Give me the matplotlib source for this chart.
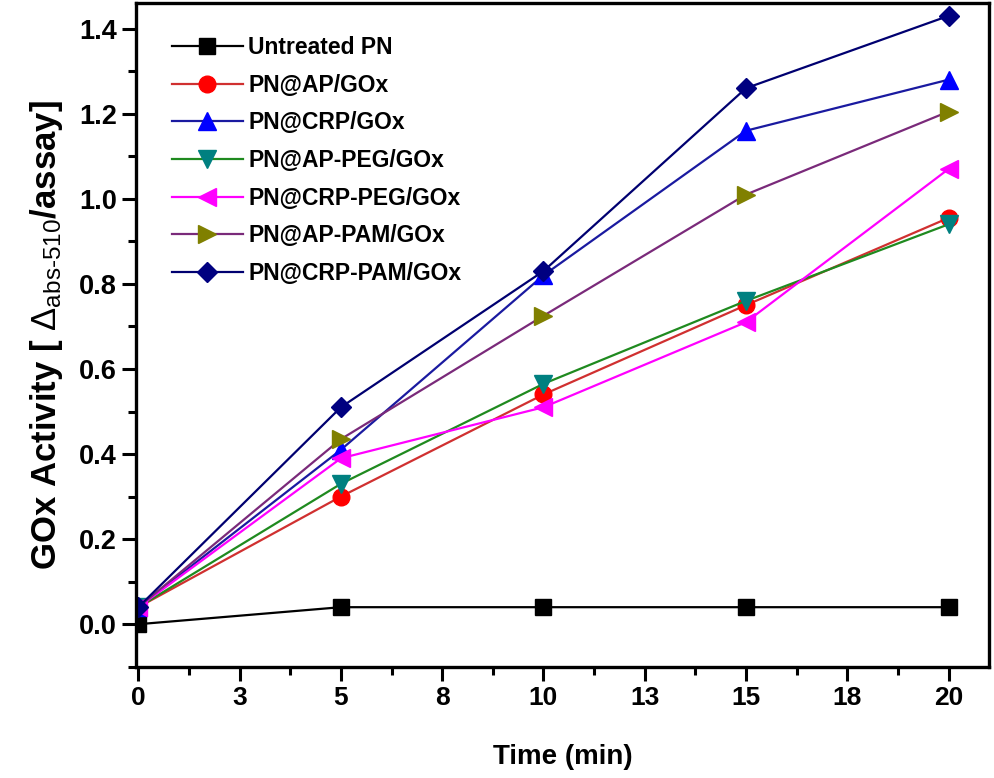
import matplotlib
matplotlib.use("Agg")
import matplotlib.pyplot as plt
from matplotlib.ticker import FixedLocator, MultipleLocator

# data
time_min = [0, 5, 10, 15, 20]
untreated = [0.0, 0.04, 0.04, 0.04, 0.04]
ap_gox = [0.04, 0.30, 0.54, 0.75, 0.955]
crp_gox = [0.04, 0.41, 0.82, 1.16, 1.28]
ap_peg = [0.04, 0.33, 0.565, 0.76, 0.94]
crp_peg = [0.04, 0.39, 0.51, 0.71, 1.07]
ap_pam = [0.04, 0.435, 0.725, 1.01, 1.205]
crp_pam = [0.04, 0.51, 0.83, 1.26, 1.43]

labels = ["Untreated PN", "PN@AP/GOx", "PN@CRP/GOx", "PN@AP-PEG/GOx",
          "PN@CRP-PEG/GOx", "PN@AP-PAM/GOx", "PN@CRP-PAM/GOx"]

x_ticks = [0, 2.5, 5, 7.5, 10, 12.5, 15, 17.5, 20]
x_ticklabels = ["0", "3", "5", "8", "10", "13", "15", "18", "20"]

plt.rcParams['font.family'] = ['Liberation Sans', 'DejaVu Sans']
plt.rcParams['mathtext.fontset'] = 'custom'
plt.rcParams['mathtext.rm'] = 'Liberation Sans'
plt.rcParams['mathtext.it'] = 'Liberation Sans:italic'

fig = plt.figure(figsize=(9.95, 7.78), dpi=100)
ax = fig.add_axes([0.137, 0.143, 0.857, 0.853])

series = [
    (untreated, "#000000", "s", "#000000", 11),
    (ap_gox, "#d03030", "o", "#ff0000", 12),
    (crp_gox, "#1a1aa0", "^", "#0000ff", 13),
    (ap_peg, "#1f8a1f", "v", "#008080", 13),
    (crp_peg, "#ff00ff", "<", "#ff00ff", 13),
    (ap_pam, "#7a2a7a", ">", "#808000", 13),
    (crp_pam, "#000070", "D", "#000080", 10),
]
for (ys, lc, mk, mc, ms), lab in zip(series, labels):
    ax.plot(time_min, ys, color=lc, lw=1.6, marker=mk, ms=ms,
            markerfacecolor=mc, markeredgecolor=mc, label=lab)

ax.set_xlim(-0.05, 21)
ax.set_ylim(-0.1, 1.46)

ax.xaxis.set_major_locator(FixedLocator(x_ticks))
ax.set_xticklabels(x_ticklabels, fontsize=19, fontweight='bold')
ax.xaxis.set_minor_locator(MultipleLocator(1.25))
ax.yaxis.set_major_locator(MultipleLocator(0.2))
ax.yaxis.set_minor_locator(MultipleLocator(0.1))
ax.set_yticklabels([f"{v:.1f}" for v in ax.get_yticks()])
for t in ax.get_yticklabels():
    t.set_fontsize(19.5)
    t.set_fontweight('bold')

ax.tick_params(which='major', direction='out', length=10, width=2.2, pad=4,
               top=False, right=False)
ax.tick_params(which='minor', direction='out', length=6, width=2.2,
               top=False, right=False)
for sp in ax.spines.values():
    sp.set_linewidth(2.4)

ax.set_xlabel("Time (min)", fontsize=20, fontweight='bold', labelpad=24)
ax.set_ylabel(r"GOx Activity [ $\Delta_{\mathrm{abs\text{-}510}}$/assay]",
              fontsize=25, fontweight='bold', labelpad=10)

ax.legend(loc='upper left', frameon=False,
          prop={'weight': 'bold', 'size': 16.5},
          handlelength=3.1, handletextpad=0.25, labelspacing=0.64,
          borderaxespad=0.4, bbox_to_anchor=(0.02, 0.978))

fig.savefig("out.png", dpi=100)
